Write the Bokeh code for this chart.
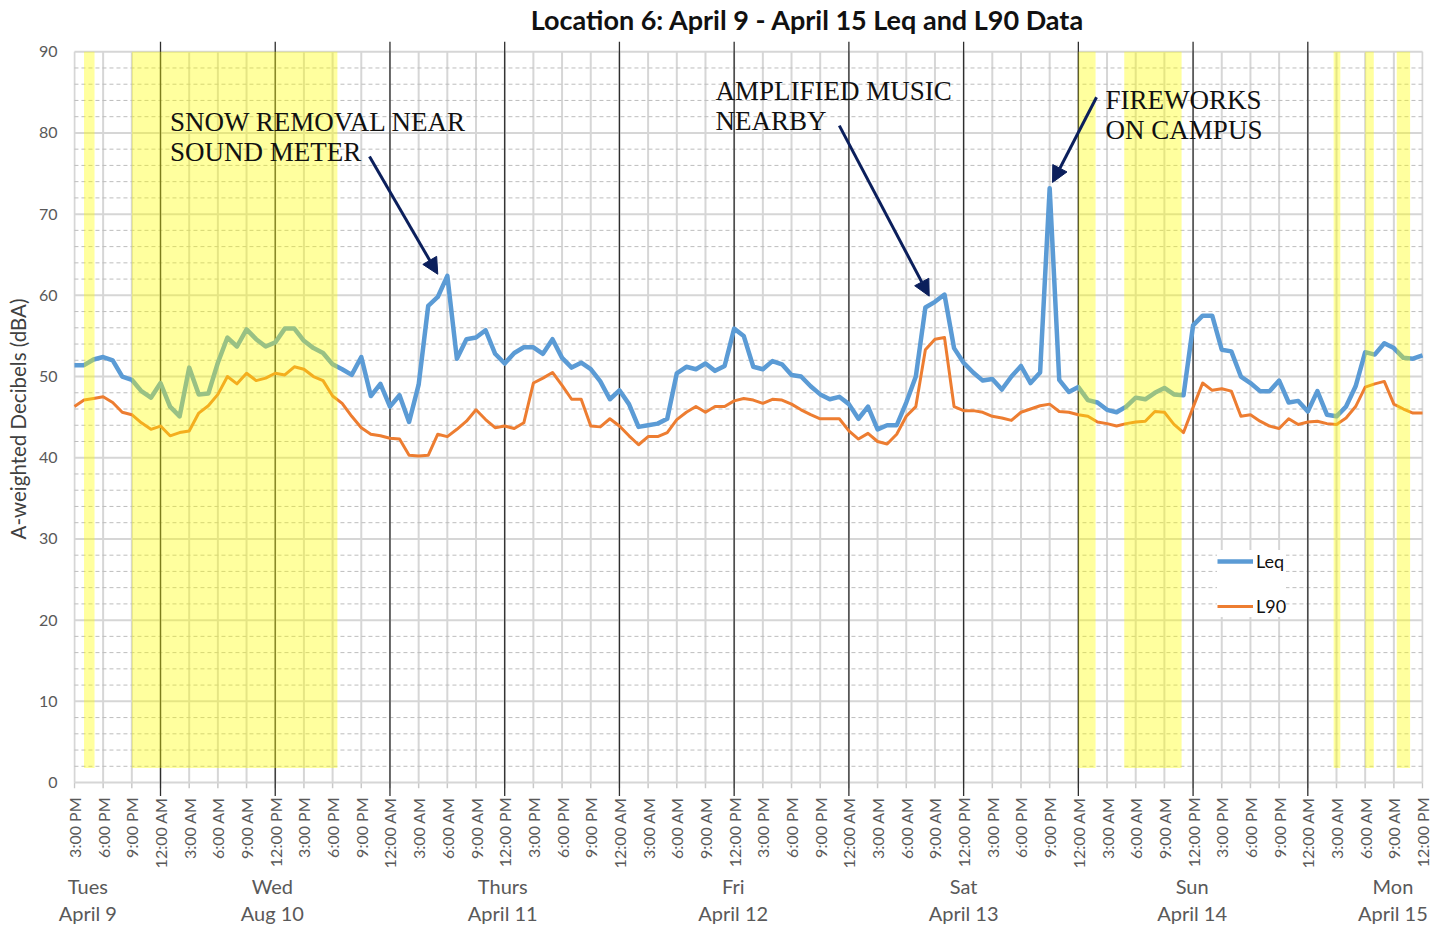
from math import pi
from bokeh.plotting import figure
from bokeh.layouts import column
from bokeh.models import (Range1d, FixedTicker, Arrow, NormalHead,
                          Legend, LegendItem)
from bokeh.core.properties import value
from bokeh.embed import file_html
from bokeh.resources import INLINE

# ---------------- data (hourly, starting 3:00 PM Tue April 9) ----------------
hours = list(range(142))
leq = [51.4, 51.4, 52.1, 52.4, 52.0, 50.0, 49.6, 48.2, 47.4, 49.2,
       46.3, 45.1, 51.1, 47.8, 47.9, 51.7, 54.8, 53.7, 55.8, 54.6,
       53.7, 54.2, 55.9, 55.9, 54.4, 53.5, 52.9, 51.5, 50.9, 50.2,
       52.4, 47.6, 49.1, 46.3, 47.7, 44.4, 49.0, 58.7, 59.8, 62.4,
       52.2, 54.6, 54.8, 55.7, 52.8, 51.6, 52.9, 53.6, 53.6, 52.8,
       54.6, 52.3, 51.1, 51.7, 50.9, 49.4, 47.2, 48.3, 46.6, 43.8,
       44.0, 44.2, 44.8, 50.4, 51.2, 50.9, 51.6, 50.7, 51.3, 55.9,
       55.0, 51.2, 50.9, 51.9, 51.5, 50.2, 50.0, 48.8, 47.8, 47.2,
       47.5, 46.6, 44.8, 46.3, 43.5, 44.0, 44.0, 46.8, 50.0, 58.5,
       59.2, 60.1, 53.5, 51.7, 50.5, 49.5, 49.7, 48.4, 50.0, 51.3,
       49.2, 50.5, 73.2, 49.6, 48.1, 48.7, 47.1, 46.8, 45.9, 45.6,
       46.3, 47.4, 47.2, 48.0, 48.6, 47.8, 47.7, 56.3, 57.5, 57.5,
       53.3, 53.1, 50.0, 49.2, 48.2, 48.2, 49.5, 46.8, 47.0, 45.7,
       48.2, 45.3, 45.1, 46.3, 48.8, 53.0, 52.7, 54.1, 53.5, 52.3,
       52.2, 52.6]
l90 = [46.3, 47.1, 47.3, 47.5, 46.8, 45.6, 45.3, 44.3, 43.5, 43.9,
       42.7, 43.1, 43.3, 45.5, 46.4, 47.8, 50.0, 49.1, 50.4, 49.5,
       49.8, 50.4, 50.2, 51.2, 50.9, 50.0, 49.5, 47.6, 46.7, 45.1,
       43.7, 42.9, 42.7, 42.4, 42.3, 40.3, 40.2, 40.3, 42.9, 42.6,
       43.5, 44.5, 45.9, 44.7, 43.7, 43.9, 43.6, 44.3, 49.2, 49.8,
       50.5, 48.9, 47.2, 47.2, 43.9, 43.8, 44.8, 43.9, 42.7, 41.6,
       42.6, 42.6, 43.1, 44.7, 45.6, 46.3, 45.6, 46.3, 46.3, 47.0,
       47.3, 47.1, 46.7, 47.2, 47.1, 46.6, 45.9, 45.3, 44.8, 44.8,
       44.8, 43.3, 42.3, 43.0, 42.0, 41.7, 42.9, 45.1, 46.3, 53.3,
       54.6, 54.8, 46.3, 45.8, 45.8, 45.6, 45.1, 44.9, 44.6, 45.6,
       46.0, 46.4, 46.6, 45.7, 45.6, 45.3, 45.1, 44.4, 44.2, 43.9,
       44.2, 44.4, 44.5, 45.7, 45.6, 44.1, 43.1, 46.2, 49.2, 48.3,
       48.5, 48.2, 45.1, 45.3, 44.5, 43.9, 43.6, 44.8, 44.1, 44.4,
       44.5, 44.2, 44.1, 44.9, 46.3, 48.7, 49.1, 49.4, 46.6, 46.0,
       45.5, 45.5]

# shaded (yellow) periods, in hours from start
band_start = [1.0, 6.0, 105.0, 109.8, 131.7, 135.0, 138.3]
band_end = [2.1, 27.5, 106.8, 115.8, 132.4, 135.9, 139.7]

tick_hours = list(range(0, 142, 3))


def fmt(h):
    t = (15 + h) % 24
    hh = t % 12 or 12
    return f"{hh}:00 {'AM' if t < 12 else 'PM'}"


tick_labels = [fmt(h) for h in tick_hours]
day_lines = [h for h in tick_hours if (15 + h) % 12 == 0 and h < 141]
day_names = ["Tues", "Wed", "Thurs", "Fri", "Sat", "Sun", "Mon"]
day_dates = ["April 9", "Aug 10", "April 11", "April 12", "April 13", "April 14", "April 15"]
day_pos = [1.4, 20.7, 44.8, 68.9, 93.0, 116.9, 137.9]
y_ticks = list(range(0, 91, 10))
y_minor = [v for v in range(2, 90, 2) if v % 10]

FONT = "Lato"
GRAY_TXT = "#595959"
NAVY = "#0b1f5c"

# ---------------- geometry ----------------
FW, FH = 1350, 755
BL, BR = 73, 10
SW = 1440                       # width of the text strips
X0, X1 = -0.1, 141.1
K = FW / (X1 - X0)             # px per hour
YMIN, YMAX = -1.72, 91.26
xr = Range1d(X0, X1)
xfull = Range1d(X0 - BL / K, X0 - BL / K + SW / K)   # same scale as the plot


def strip(height):
    f = figure(frame_width=SW, frame_height=height, x_range=xfull,
               y_range=Range1d(0, height), output_backend="svg",
               toolbar_location=None, x_axis_location=None, y_axis_location=None,
               min_border_left=0, min_border_right=0, min_border_top=0,
               min_border_bottom=0, frame_align=False)
    f.outline_line_color = None
    f.xgrid.visible = False
    f.ygrid.visible = False
    f.title.visible = False
    return f


# ---------------- title strip ----------------
top = strip(41)
top.text(x=[76.7], y=[22], text=["Location 6: April 9 - April 15 Leq and L90 Data"],
         text_align="center", text_baseline="alphabetic", text_font=value(FONT),
         text_font_size="27px", text_font_style="bold", text_color="#111111")

# ---------------- main plot ----------------
p = figure(frame_width=FW, frame_height=FH, x_range=xr,
           y_range=Range1d(YMIN, YMAX), output_backend="svg",
           toolbar_location=None, x_axis_location=None,
           min_border_left=BL, min_border_right=BR,
           min_border_top=0, min_border_bottom=0, frame_align=False)
p.outline_line_color = None
p.xgrid.visible = False
p.ygrid.visible = False
p.title.visible = False

ya = p.yaxis[0]
ya.ticker = FixedTicker(ticks=y_ticks)
ya.axis_line_color = None
ya.major_tick_line_color = None
ya.minor_tick_line_color = None
ya.major_tick_out = 0
ya.major_label_standoff = 16
ya.major_label_text_font = FONT
ya.major_label_text_font_size = "16px"
ya.major_label_text_color = GRAY_TXT
ya.axis_label = "A-weighted Decibels (dBA)"
ya.axis_label_text_font = FONT
ya.axis_label_text_font_style = "normal"
ya.axis_label_text_font_size = "20.5px"
ya.axis_label_text_color = "#404040"
ya.axis_label_standoff = 6

# grid drawn by hand
n = len(tick_hours)
p.segment(x0=tick_hours, y0=[0] * n, x1=tick_hours, y1=[90] * n,
          line_color="#d6d6d6", line_width=2)
p.segment(x0=tick_hours, y0=[0] * n, x1=tick_hours, y1=[-0.7] * n,
          line_color="#c8c8c8", line_width=1.5)
p.segment(x0=[0] * len(y_minor), y0=y_minor, x1=[141] * len(y_minor), y1=y_minor,
          line_color="#bdbdbd", line_width=1, line_dash="4 3")
p.segment(x0=[0] * len(y_ticks), y0=y_ticks, x1=[141] * len(y_ticks), y1=y_ticks,
          line_color="#d6d6d6", line_width=2)
p.segment(x0=day_lines, y0=[YMIN] * len(day_lines), x1=day_lines, y1=[YMAX] * len(day_lines),
          line_color="#2e2e2e", line_width=1.3)

r_leq = p.line(hours, leq, line_color="#5b9bd5", line_width=4.5, line_join="round")
r_l90 = p.line(hours, l90, line_color="#ed7d31", line_width=3, line_join="round")

p.quad(left=band_start, right=band_end, bottom=1.8, top=90,
       fill_color="#ffff00", fill_alpha=0.38, line_color=None)

# annotations (y = visual centre of each line)
ann = [(10.0, 81.3, "SNOW REMOVAL NEAR"), (10.0, 77.6, "SOUND METER"),
       (67.05, 85.2, "AMPLIFIED MUSIC"), (67.05, 81.5, "NEARBY"),
       (107.85, 84.0, "FIREWORKS"), (107.85, 80.3, "ON CAMPUS")]
p.text(x=[a[0] for a in ann], y=[a[1] for a in ann], text=[a[2] for a in ann],
       text_font=value("Liberation Serif"), text_font_size="27px",
       text_baseline="alphabetic", text_align="left", text_color="#111111")

for xs, ys, xe, ye in [(30.86, 77.1, 38.0, 62.6), (80.0, 80.9, 89.4, 59.9),
                       (106.9, 84.4, 102.3, 73.9)]:
    p.add_layout(Arrow(end=NormalHead(size=16, fill_color=NAVY, line_color=NAVY),
                       x_start=xs, y_start=ys, x_end=xe, y_end=ye,
                       line_color=NAVY, line_width=3))

legend = Legend(items=[LegendItem(label="Leq", renderers=[r_leq]),
                       LegendItem(label="L90", renderers=[r_l90])],
                location=(1144, 179), border_line_color=None,
                background_fill_color="white", background_fill_alpha=1.0,
                label_text_font=FONT, label_text_font_size="18px",
                label_text_color="#111111", glyph_width=36, glyph_height=20,
                spacing=23, padding=20, label_standoff=3)
p.add_layout(legend)

# ---------------- time labels and day names ----------------
H2 = 130
bot = strip(H2)
bot.text(x=tick_hours, y=[H2 - 1] * n, text=tick_labels, angle=pi / 2,
         text_align="right", text_baseline="middle", text_font=value(FONT),
         text_font_size="16px", text_color=GRAY_TXT)
bot.text(x=day_pos, y=[41] * len(day_pos), text=day_names, text_align="center",
         text_baseline="alphabetic", text_font=value(FONT), text_font_size="20px",
         text_color=GRAY_TXT)
bot.text(x=day_pos, y=[14] * len(day_pos), text=day_dates, text_align="center",
         text_baseline="alphabetic", text_font=value(FONT), text_font_size="20px",
         text_color=GRAY_TXT)

layout = column(top, p, bot, spacing=0)
open("out.html", "w").write(file_html(layout, INLINE))
